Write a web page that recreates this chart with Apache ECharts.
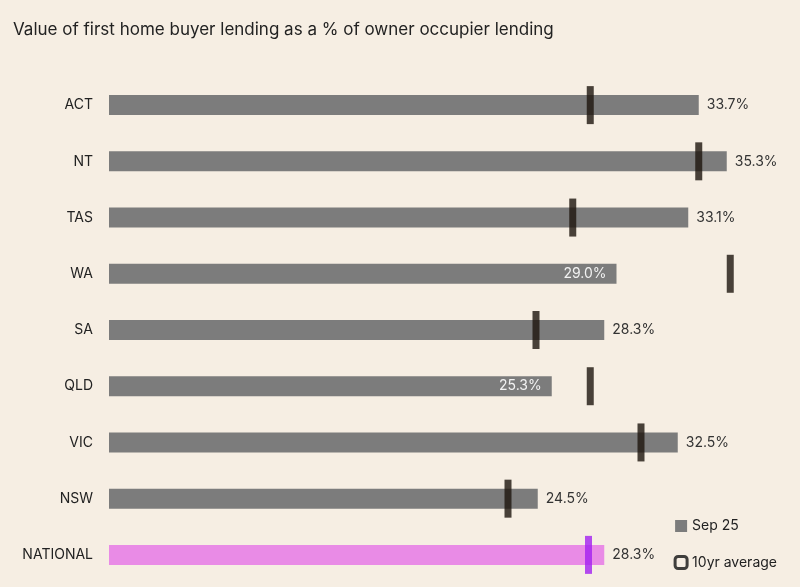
<!DOCTYPE html>
<html><head><meta charset="utf-8">
<script src="https://cdn.jsdelivr.net/npm/echarts@6/dist/echarts.min.js"></script>
<style>html,body{margin:0;background:#f6eee3}#c{width:800px;height:587px}</style>
</head><body><div id="c"></div>
<script>
const categories = ['ACT','NT','TAS','WA','SA','QLD','VIC','NSW','NATIONAL'];
const sep25 = [33.7,35.3,33.1,29.0,28.3,25.3,32.5,24.5,28.3];
const avg10 = [27.5,33.7,26.5,35.5,24.4,27.5,30.4,22.8,27.4];
const insideLabels = ['WA','QLD'];

const cats = categories.slice().reverse();
const barData = sep25.slice().reverse().map((v,i)=>{
  const c = cats[i];
  const o = {value:v};
  if (c==='NATIONAL') o.itemStyle={color:'#e98be6'};
  if (insideLabels.includes(c)) o.label={position:'insideRight',color:'#f2f2f2',distance:10};
  return o;
});
const avgData = avg10.slice().reverse().map((v,i)=>{
  const o={value:[v,cats[i]]};
  if (cats[i]==='NATIONAL') o.itemStyle={color:'#a31ff0'};
  return o;
});
const chart = echarts.init(document.getElementById('c'));
chart.setOption({
  backgroundColor:'#f6eee3',
  textStyle:{fontFamily:'Inter, Noto Sans, sans-serif'},
  title:{text:'Value of first home buyer lending as a % of owner occupier lending',left:8,top:16,
    textStyle:{fontSize:17,fontWeight:'normal',color:'#222'}},
  grid:{left:109,right:26,top:77,bottom:4},
  xAxis:{type:'value',min:0,max:38,show:false},
  yAxis:{type:'category',data:cats,axisLine:{show:false},axisTick:{show:false},
    axisLabel:{color:'#222',fontSize:14,margin:16}},
  legend:{orient:'vertical',right:18,top:514,itemGap:22,itemWidth:12,itemHeight:12,
    textStyle:{fontSize:14,color:'#222'},
    data:[{name:'Sep 25',icon:'rect'},{name:'10yr average',icon:'roundRect',
      itemStyle:{color:'#f6eee3',borderColor:'#111',borderWidth:3}}]},
  series:[
    {name:'Sep 25',type:'bar',data:barData,barWidth:20,itemStyle:{color:'#7c7c7c'},
     label:{show:true,position:'right',formatter:p=>p.value.toFixed(1)+'%',fontSize:14,color:'#333',distance:8}},
    {name:'10yr average',type:'scatter',data:avgData,symbol:'rect',symbolSize:[7,38],
     itemStyle:{color:'#1d140c'},z:5}
  ]
});
</script></body></html>
